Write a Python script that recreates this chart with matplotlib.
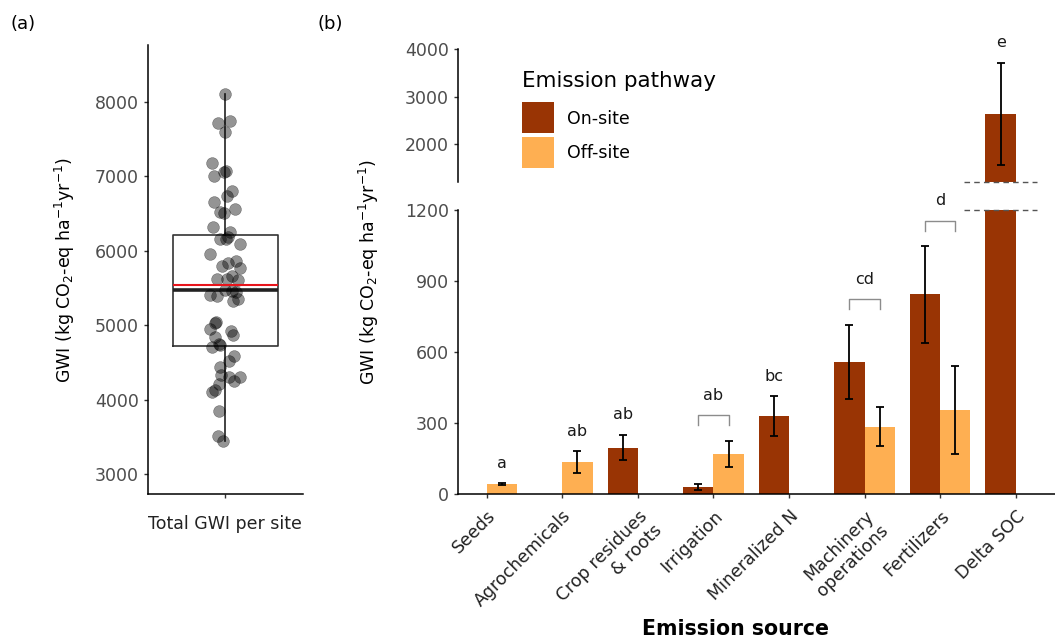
import numpy as np
import matplotlib.pyplot as plt
from matplotlib.patches import Rectangle

plt.rcParams['font.family'] = ['DejaVu Sans']

# =============================================================================
# DATA
# =============================================================================

# panel (a): total GWI of each site (kg CO2-eq / ha / yr)
site_gwi = [8099, 7714, 7741, 7597, 7172, 7002, 7051, 7065, 6805, 6733,
            6653, 6523, 6501, 6554, 6321, 6246, 6151, 6160, 6187, 6089,
            5954, 5793, 5838, 5860, 5771, 5623, 5614, 5659, 5605, 5404,
            5390, 5471, 5462, 5449, 5323, 5346, 5041, 5023, 4943, 4925,
            4867, 4844, 4710, 4746, 4732, 4584, 4522, 4432, 4329, 4298,
            4253, 4307, 4208, 4105, 4128, 3850, 3510, 3447]
# horizontal jitter of each point, as seen in the picture
site_jitter = [-0.003, -0.057, 0.034, -0.005, -0.101, -0.085, -0.008, 0.008, 0.052, 0.013,
               -0.090, -0.039, -0.013, 0.078, -0.096, 0.039, -0.039, 0.008, 0.018, 0.111,
               -0.119, -0.026, 0.021, 0.080, 0.111, -0.065, 0.013, 0.054, 0.096, -0.121,
               -0.065, 0.000, 0.052, 0.085, 0.057, 0.098, -0.070, -0.078, -0.116, 0.044,
               0.059, -0.078, -0.103, -0.052, -0.039, 0.070, 0.026, -0.044, -0.034, 0.026,
               0.065, 0.116, -0.052, -0.101, -0.078, -0.049, -0.059, -0.021]
box_q1 = 4719
box_median = 5471
box_q3 = 6210
box_whis_lo = 3447
box_whis_hi = 8099
site_mean = 5542

# panel (b): emission sources
sources = ['Seeds', 'Agrochemicals', 'Crop residues\n& roots', 'Irrigation',
           'Mineralized N', 'Machinery\noperations', 'Fertilizers', 'Delta SOC']
onsite_mean = [np.nan, np.nan, 197, 31, 331, 558, 844, 2638]
onsite_err = [np.nan, np.nan, 53, 11, 83, 155, 204, 1080]
offsite_mean = [44, 135, np.nan, 170, np.nan, 286, 356, np.nan]
offsite_err = [5, 47, np.nan, 56, np.nan, 81, 186, np.nan]
letters = ['a', 'ab', 'ab', 'ab', 'bc', 'cd', 'd', 'e']
letter_y = [131, 264, 335, 419, 499, 907, 1238, 4143]
# brackets joining on-site and off-site bars of one source
bracket_idx = [3, 5, 6]
bracket_top = [334, 823, 1152]
pathways = ['On-site', 'Off-site']

ON_COL = '#993404'
OFF_COL = '#FEAF52'
TICK_GREY = '#4D4D4D'

W, H = 1055, 639
fig = plt.figure(figsize=(W / 100, H / 100), dpi=100)


def px_box(x0, y0, x1, y1):
    # pixel box (top-left origin) -> figure rect
    return [x0 / W, 1 - y1 / H, (x1 - x0) / W, (y1 - y0) / H]


def style_axis(ax):
    for s in ['top', 'right']:
        ax.spines[s].set_visible(False)
    for s in ['left', 'bottom']:
        ax.spines[s].set_linewidth(1.1)
    ax.tick_params(axis='both', length=3, width=1, color='#333333', pad=3.5,
                   labelsize=12.5, labelcolor=TICK_GREY)


# =============================================================================
# PANEL (a)
# =============================================================================
ax_a = fig.add_axes(px_box(147.7, 45, 303, 494))
style_axis(ax_a)

stats = [{'med': box_median, 'q1': box_q1, 'q3': box_q3,
          'whislo': box_whis_lo, 'whishi': box_whis_hi, 'fliers': []}]
ax_a.bxp(stats, positions=[0], widths=0.81, showcaps=False, showfliers=False,
         boxprops=dict(color='#333333', linewidth=1.2),
         whiskerprops=dict(color='#222222', linewidth=1.2),
         medianprops=dict(color='#222222', linewidth=2.6))
ax_a.scatter(site_jitter, site_gwi, s=72, color='black', alpha=0.42,
             edgecolors='black', linewidths=0.4, zorder=3)
ax_a.hlines(site_mean, -0.405, 0.405, color='#E8141B', linewidth=1.5, zorder=4)

ax_a.set_xlim(-0.6, 0.6)
ax_a.set_ylim(2731, 8761)
ax_a.set_yticks([3000, 4000, 5000, 6000, 7000, 8000])
ax_a.set_xticks([0], ['Total GWI per site'])
ax_a.tick_params(axis='x', labelcolor='#222222', pad=12)

ylab = 'GWI (kg CO$_2$-eq ha$^{-1}$yr$^{-1}$)'
fig.text(65 / W, 1 - 270 / H, ylab, rotation=90, ha='center', va='center', fontsize=12.5)
fig.text(23 / W, 1 - 24 / H, '(a)', ha='center', va='center', fontsize=13)

# =============================================================================
# PANEL (b) - broken y axis
# =============================================================================
ax_lo = fig.add_axes(px_box(458, 210, 1055, 494.3))
ax_hi = fig.add_axes(px_box(458, 49.3, 1055, 182.3))
style_axis(ax_lo)
style_axis(ax_hi)

x = np.arange(len(sources))
bw = 0.4
for ax in (ax_lo, ax_hi):
    ax.bar(x - bw / 2, onsite_mean, width=bw, color=ON_COL)
    ax.bar(x + bw / 2, offsite_mean, width=bw, color=OFF_COL)
    ax.errorbar(x - bw / 2, onsite_mean, yerr=onsite_err, fmt='none', ecolor='black',
                elinewidth=1.3, capsize=2.6, capthick=1.3)
    ax.errorbar(x + bw / 2, offsite_mean, yerr=offsite_err, fmt='none', ecolor='black',
                elinewidth=1.3, capsize=2.6, capthick=1.3)
    ax.set_xlim(-0.38, 7.52)

ax_lo.set_ylim(0, 1200)
ax_lo.set_yticks([0, 300, 600, 900, 1200])
ax_lo.set_xticks(x, sources, rotation=45, ha='right', va='top',
                 rotation_mode='anchor', fontsize=12.5)
ax_lo.tick_params(axis='x', labelcolor='#222222', pad=6)

ax_hi.set_ylim(1195, 4000)
ax_hi.set_yticks([2000, 3000, 4000])
ax_hi.spines['bottom'].set_visible(False)
ax_hi.set_xticks([])

# brackets and letters
for i, top in zip(bracket_idx, bracket_top):
    ax_lo.plot([x[i] - bw / 2, x[i] - bw / 2, x[i] + bw / 2, x[i] + bw / 2],
               [top - 42, top, top, top - 42], color='#8C8C8C', linewidth=1.0)
for i, (lab, ly) in enumerate(zip(letters, letter_y)):
    has_on = not np.isnan(onsite_mean[i])
    has_off = not np.isnan(offsite_mean[i])
    lx = x[i] + (0 if (has_on and has_off) else (-bw / 2 if has_on else bw / 2))
    ax = ax_hi if ly > 1300 else ax_lo
    ax.text(lx, ly, lab, ha='center', va='center', fontsize=11.5, color='#1A1A1A',
            clip_on=False)

# dashed break marks around Delta SOC
brk = len(sources) - 1
ax_lo.plot([brk - 0.68, brk + 0.28], [1200, 1200], color='#555555', linestyle=(0, (4, 3)),
           linewidth=1.0, clip_on=False)
ax_hi.plot([brk - 0.68, brk + 0.28], [1195, 1195], color='#555555', linestyle=(0, (4, 3)),
           linewidth=1.0, clip_on=False)

# legend, drawn as figure artists
fig.text(522 / W, 1 - 81 / H, 'Emission pathway', ha='left', va='center', fontsize=15.4)
key_top = [102.3, 136.7]
for lab, col, kt in zip(pathways, [ON_COL, OFF_COL], key_top):
    fig.add_artist(Rectangle((522.3 / W, 1 - (kt + 31) / H), 31.7 / W, 31 / H,
                             transform=fig.transFigure, facecolor=col, edgecolor='none'))
    fig.text(566.7 / W, 1 - (kt + 16.5) / H, lab, ha='left', va='center', fontsize=12.5)

fig.text(369 / W, 1 - 272 / H, ylab, rotation=90, ha='center', va='center', fontsize=12.5)
fig.text(330 / W, 1 - 24 / H, '(b)', ha='center', va='center', fontsize=13)
fig.text(736 / W, 1 - 629 / H, 'Emission source', ha='center', va='center',
         fontsize=14.8, fontweight='bold')

fig.savefig('out.png', dpi=100)
